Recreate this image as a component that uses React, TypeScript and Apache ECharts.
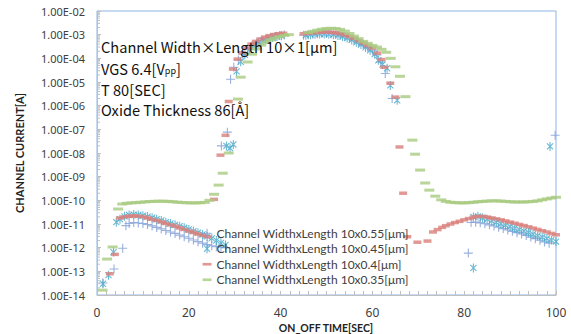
import { useEffect, useRef } from 'react';
import * as echarts from 'echarts';

const seriesNames = [
  'Channel WidthxLength 10x0.55[μm]',
  'Channel WidthxLength 10x0.45[μm]',
  'Channel WidthxLength 10x0.4[μm]',
  'Channel WidthxLength 10x0.35[μm]',
];

const annotationLines = [
  'Channel Width×Length 10×1[μm]',
  'VGS 6.4[V{sub|pp}]',
  'T 80[SEC]',
  'Oxide Thickness 86[Å]',
];

const yAxisTitle = 'CHANNEL CURRENT[A]';
const xAxisTitle = 'ON_OFF TIME[SEC]';

const yDecades = [-14, -13, -12, -11, -10, -9, -8, -7, -6, -5, -4, -3];
const minorMultipliers = [2, 3, 4, 5, 6, 7, 8, 9];

// 10x0.55 (blue plus)
const w055: [number, number][] = [
  [1.3, 3.2e-14], [3.7, 1.26e-13], [5.6, 9.5e-13], [6.3, 8.5e-12], [7, 1.05e-11], [8, 1.15e-11], [9, 1.1e-11],
  [10, 1.05e-11], [11, 9.5e-12], [12, 8.3e-12], [13, 7.2e-12], [14, 6.2e-12], [15, 5.3e-12], [16, 4.6e-12],
  [17, 4.0e-12], [18, 3.4e-12], [19, 2.9e-12], [20, 2.5e-12], [21, 2.1e-12], [22, 1.8e-12], [23, 1.55e-12],
  [24, 1.35e-12], [25, 1.2e-12], [26, 1.1e-12], [27, 1.05e-12], [28, 1.0e-12],
  [27.1, 2.0e-8], [28.4, 7.6e-8], [29.1, 1.3e-5], [29.8, 4.2e-5], [30.8, 8.5e-5], [31.8, 1.5e-4], [32.8, 2.4e-4],
  [33.8, 3.4e-4], [34.8, 4.4e-4], [35.8, 5.5e-4], [36.8, 6.5e-4], [37.8, 7.5e-4], [38.8, 8.4e-4], [39.8, 9.2e-4],
  [40.8, 9.8e-4],
  [45, 9.5e-4], [46, 1.0e-3], [47, 1.05e-3], [48, 1.1e-3], [49, 1.12e-3], [50, 1.12e-3], [51, 1.1e-3],
  [52, 1.05e-3], [53, 9.6e-4], [54, 8.5e-4], [55, 7.3e-4], [56, 6.0e-4], [57, 4.8e-4], [58, 3.8e-4],
  [59, 2.9e-4], [60, 2.2e-4], [61, 1.4e-4], [61.8, 7.0e-5], [62.8, 2.3e-5], [64.3, 2.0e-6],
  [80.9, 5.9e-13], [81.5, 1.15e-11], [82.5, 1.2e-11], [83.5, 1.12e-11], [84.5, 1.02e-11], [85.5, 9.2e-12],
  [86.5, 8.2e-12], [87.5, 7.3e-12], [88.5, 6.4e-12], [89.5, 5.6e-12], [90.5, 4.9e-12], [91.5, 4.3e-12],
  [92.5, 3.8e-12], [93.5, 3.3e-12], [94.5, 2.8e-12], [95.5, 2.4e-12], [96.5, 2.05e-12], [97.5, 1.75e-12],
  [98.5, 1.55e-12], [99.8, 5.6e-8],
];

// 10x0.45 (teal asterisk)
const w045: [number, number][] = [
  [1.3, 3.0e-14], [2.5, 6.9e-14], [3.6, 6.5e-13], [4.2, 1.2e-11], [5, 1.6e-11], [6, 2.1e-11], [7, 2.4e-11],
  [8, 2.5e-11], [9, 2.4e-11], [10, 2.25e-11], [11, 2.05e-11], [12, 1.85e-11], [13, 1.6e-11], [14, 1.4e-11],
  [15, 1.2e-11], [16, 1.05e-11], [17, 9.2e-12], [18, 8.0e-12], [19, 6.9e-12], [20, 5.9e-12], [21, 5.0e-12],
  [22, 4.3e-12], [23, 3.6e-12], [24, 3.0e-12], [25, 2.5e-12], [26, 2.0e-12], [27, 1.6e-12], [28, 1.3e-12],
  [28.2, 2.0e-8], [29.0, 1.6e-8], [29.7, 2.3e-8], [30.4, 2.8e-5], [31.3, 7.2e-5], [32.2, 1.4e-4],
  [33.2, 2.3e-4], [34.2, 3.3e-4], [35.2, 4.4e-4], [36.2, 5.5e-4], [37.2, 6.5e-4], [38.2, 7.5e-4],
  [39.2, 8.4e-4], [40.2, 9.0e-4],
  [45.5, 9.5e-4], [46.5, 1.0e-3], [47.5, 1.05e-3], [48.5, 1.08e-3], [49.5, 1.08e-3], [50.5, 1.05e-3],
  [51.5, 1.0e-3], [52.5, 9.3e-4], [53.5, 8.3e-4], [54.5, 7.2e-4], [55.5, 6.0e-4], [56.5, 4.8e-4],
  [57.5, 3.8e-4], [58.5, 2.9e-4], [59.5, 2.2e-4], [60.5, 1.5e-4], [61.3, 8.3e-5], [62.2, 5.5e-5],
  [63.2, 3.8e-5], [63.9, 7.2e-6], [65.4, 1.7e-6],
  [82, 2.0e-11], [83, 2.1e-11], [84, 1.8e-11], [85, 1.6e-11], [86, 1.35e-11], [87, 1.17e-11], [88, 1.02e-11],
  [89, 8.9e-12], [90, 7.8e-12], [91, 6.6e-12], [92, 5.8e-12], [93, 5.0e-12], [94, 4.4e-12], [95, 3.7e-12],
  [96, 3.2e-12], [97, 2.8e-12], [98, 2.45e-12], [99, 2.1e-12], [100, 1.8e-12],
  [82, 1.4e-13], [98.7, 1.9e-8],
];

// 10x0.4 (red dash)
const w04: [number, number][] = [
  [2.8, 7.9e-14], [3.9, 5.2e-13], [5, 1.8e-11], [6, 2.0e-11], [7, 2.15e-11], [8, 2.2e-11], [9, 2.15e-11],
  [10, 2.0e-11], [11, 1.8e-11], [12, 1.6e-11], [13, 1.4e-11], [14, 1.22e-11], [15, 1.06e-11], [16, 9.2e-12],
  [17, 8.0e-12], [18, 6.9e-12], [19, 5.9e-12], [20, 5.0e-12], [21, 4.4e-12], [22, 3.8e-12], [23, 3.3e-12],
  [24, 2.9e-12],
  [25.5, 1.1e-10], [26.9, 8.1e-9], [28, 5.6e-8], [28.7, 1.5e-6], [29.6, 3.5e-5], [30.6, 9.3e-5],
  [31.6, 1.74e-4], [32.6, 2.75e-4], [33.6, 4.0e-4], [34.6, 5.2e-4], [35.6, 6.6e-4], [36.6, 7.9e-4],
  [37.6, 9.1e-4], [38.6, 1.02e-3], [39.6, 1.1e-3], [40.6, 1.15e-3],
  [45, 1.1e-3], [46, 1.15e-3], [47, 1.2e-3], [48, 1.26e-3], [49, 1.29e-3], [50, 1.29e-3], [51, 1.26e-3],
  [52, 1.2e-3], [53, 1.1e-3], [54, 9.8e-4], [55, 8.5e-4], [56, 7.1e-4], [57, 5.6e-4], [58, 4.5e-4],
  [59, 3.5e-4], [60, 2.7e-4], [61, 1.66e-4], [62, 8.9e-5], [62.6, 4.2e-5], [63.9, 8.9e-6], [65, 2.3e-6],
  [65.9, 1.8e-8], [66.7, 2.0e-10], [67.6, 2.9e-12], [69.8, 1.7e-12], [72, 1.9e-12], [73.2, 4.6e-12],
  [74.2, 5.8e-12], [75.2, 7.2e-12], [76, 8.5e-12], [77, 1.0e-11], [78, 1.15e-11], [79, 1.3e-11],
  [80, 1.5e-11], [81, 1.7e-11], [82, 1.95e-11], [83, 2.1e-11], [84, 2.1e-11], [85, 1.95e-11],
  [86, 1.8e-11], [87, 1.65e-11], [88, 1.5e-11], [89, 1.35e-11], [90, 1.2e-11], [91, 1.08e-11],
  [92, 9.6e-12], [93, 8.6e-12], [94, 7.6e-12], [95, 6.7e-12], [96, 5.9e-12], [97, 5.2e-12],
  [98, 4.6e-12], [99, 4.0e-12], [100, 3.5e-12],
];

// 10x0.35 (green dash)
const w035: [number, number][] = [
  [1.2, 1.6e-14], [2.2, 3.3e-13], [3.4, 1.07e-12], [4.6, 4.3e-11], [5.5, 7.0e-11], [6.5, 7.5e-11],
  [7.5, 7.8e-11], [8.5, 8.0e-11], [9.5, 8.3e-11], [10.5, 8.6e-11], [11.5, 8.9e-11], [12.5, 9.1e-11],
  [13.5, 9.2e-11], [14.5, 9.2e-11], [15.5, 9.0e-11], [16.5, 8.7e-11], [17.5, 8.4e-11], [18.5, 8.1e-11],
  [19.5, 7.9e-11], [20.5, 7.8e-11], [21.5, 7.8e-11], [22.5, 7.9e-11], [23.5, 8.2e-11], [24.5, 1.0e-10],
  [25.5, 1.8e-10], [26.5, 4.4e-10], [27.4, 1.4e-9], [28.7, 1.0e-8], [30.7, 1.9e-6], [31.3, 1.6e-5],
  [32.8, 7.0e-5], [33.8, 1.5e-4], [34.8, 2.5e-4], [35.8, 3.6e-4], [36.8, 4.8e-4], [37.8, 6.0e-4],
  [38.8, 7.2e-4], [39.8, 8.3e-4], [40.8, 9.3e-4], [41.8, 1.0e-3],
  [46, 1.2e-3], [47, 1.38e-3], [48, 1.55e-3], [49, 1.7e-3], [50, 1.82e-3], [51, 1.86e-3], [52, 1.82e-3],
  [53, 1.66e-3], [54, 1.41e-3], [55, 1.12e-3], [56, 8.7e-4], [57, 6.8e-4], [58, 5.2e-4], [59, 4.3e-4],
  [60, 3.5e-4], [61, 3.0e-4], [62, 2.4e-4], [63, 1.8e-4], [64, 1.0e-4], [65, 4.4e-5], [66, 1.74e-5],
  [67.2, 2.4e-6],
  [68.7, 3.5e-8], [69.3, 8.9e-9], [70.4, 1.9e-9], [71.5, 5.4e-10], [72.4, 2.7e-10], [73.7, 1.5e-10],
  [75, 1.05e-10], [76, 9.0e-11], [77, 8.3e-11], [78, 8.0e-11], [79, 7.8e-11], [80, 7.8e-11], [81, 8.0e-11],
  [82, 8.3e-11], [83, 8.7e-11], [84, 9.0e-11], [85, 9.3e-11], [86, 9.5e-11], [87, 9.5e-11], [88, 9.3e-11],
  [89, 9.0e-11], [90, 8.7e-11], [91, 8.5e-11], [92, 8.5e-11], [93, 8.5e-11], [94, 8.7e-11], [95, 9.0e-11],
  [96, 9.5e-11], [97, 1.05e-10], [98, 1.15e-10], [99, 1.25e-10], [100, 1.35e-10],
];

const COLORS = ['#7F9ED6', '#45A8C8', '#D9807C', '#A8CA80'];
const PLUS = 'path://M0,5L10,5M5,0L5,10';
const STAR = 'path://M0,0M10,10M1.6,1.6L8.4,8.4M8.4,1.6L1.6,8.4M5,0L5,10';
const DASH_ICON = 'path://M0,0M10,10M0,3.5L10,3.5L10,6.5L0,6.5Z';

const textFont = '"Noto Sans CJK KR", "Noto Sans", sans-serif';
const labelFont = '"Noto Sans", sans-serif';

function buildOption() {
  const minorTicks: [number, number][] = [];
  yDecades.forEach((e) => minorMultipliers.forEach((m) => minorTicks.push([0, m * Math.pow(10, e)])));

  const strokeSeries = (name: string, data: [number, number][], symbol: string, color: string) => ({
    name,
    type: 'scatter',
    data,
    symbol,
    symbolSize: 9,
    itemStyle: { color: 'rgba(0,0,0,0)', borderColor: color, borderWidth: 1.1 },
    emphasis: { disabled: true },
    z: 2,
  });
  const dashSeries = (name: string, data: [number, number][], size: number[], color: string) => ({
    name,
    type: 'scatter',
    data,
    symbol: 'rect',
    symbolSize: size,
    itemStyle: { color },
    emphasis: { disabled: true },
    z: 2,
  });

  const annotation = annotationLines.map((t, i) => ({
    type: 'text',
    x: 101,
    y: [46, 68, 89.5, 109.5][i],
    z: 10,
    style: {
      text: t,
      font: `14.6px ${textFont}`,
      fill: '#111',
      textAlign: 'left',
      textVerticalAlign: 'middle',
      rich: {
        sub: { fontSize: 9, fontFamily: textFont, verticalAlign: 'bottom', lineHeight: 12, fill: '#111' },
      },
    },
  }));

  return {
    animation: false,
    backgroundColor: '#ffffff',
    grid: {
      left: 97,
      right: 15,
      top: 11,
      bottom: 39,
      show: true,
      borderColor: '#8DB4E2',
      borderWidth: 1,
    },
    xAxis: {
      type: 'value',
      min: 0,
      max: 100,
      interval: 20,
      axisLine: { show: true, lineStyle: { color: '#BFBFBF' } },
      axisTick: { show: true, inside: true, length: 4, lineStyle: { color: '#BFBFBF' } },
      minorTick: { show: true, splitNumber: 10, length: 4, lineStyle: { color: '#BFBFBF' } },
      splitLine: { show: false },
      axisLabel: { color: '#404040', fontSize: 12, fontFamily: labelFont, margin: 11 },
    },
    yAxis: {
      type: 'log',
      logBase: 10,
      min: 1e-14,
      max: 1e-2,
      interval: 1,
      splitNumber: 12,
      axisLine: { show: true, lineStyle: { color: '#BFBFBF' } },
      axisTick: { show: true, inside: true, length: 4, lineStyle: { color: '#BFBFBF' } },
      splitLine: { show: false },
      axisLabel: {
        color: '#404040',
        fontSize: 11,
        fontFamily: labelFont,
        margin: 12,
        formatter: (v: number) => {
          const e = Math.round(Math.log10(v));
          return '1.00E-' + String(Math.abs(e)).padStart(2, '0');
        },
      },
    },
    legend: {
      orient: 'vertical',
      left: 202,
      top: 226.5,
      itemWidth: 9,
      itemHeight: 9,
      itemGap: 2,
      padding: 0,
      textStyle: { color: '#404040', fontSize: 12, fontFamily: 'Lato, sans-serif', lineHeight: 13.5 },
      data: [
        { name: seriesNames[0], icon: PLUS, itemStyle: { borderWidth: 1.1 } },
        { name: seriesNames[1], icon: STAR, itemStyle: { borderWidth: 1.1 } },
        { name: seriesNames[2], icon: DASH_ICON },
        { name: seriesNames[3], icon: DASH_ICON },
      ],
      selectedMode: false,
      z: 6,
    },
    graphic: [
      ...annotation,
      {
        type: 'text',
        x: 19.5,
        y: 153,
        rotation: Math.PI / 2,
        style: {
          text: yAxisTitle,
          font: 'bold 11px Lato, sans-serif',
          fill: '#222',
          textAlign: 'center',
          textVerticalAlign: 'middle',
        },
      },
      {
        type: 'text',
        x: 326,
        y: 327.5,
        style: {
          text: xAxisTitle,
          font: 'bold 10.5px Lato, sans-serif',
          fill: '#222',
          textAlign: 'center',
          textVerticalAlign: 'middle',
        },
      },
    ],
    series: [
      {
        name: '__minorTicks',
        type: 'custom',
        data: minorTicks,
        silent: true,
        z: 3,
        clip: false,
        renderItem: (_p: any, api: any) => {
          const pt = api.coord([0, api.value(1)]);
          return {
            type: 'line',
            shape: { x1: pt[0], y1: pt[1], x2: pt[0] + 3, y2: pt[1] },
            style: { stroke: '#BFBFBF', lineWidth: 1 },
          };
        },
      },
      strokeSeries(seriesNames[0], w055, PLUS, COLORS[0]),
      strokeSeries(seriesNames[1], w045, STAR, COLORS[1]),
      dashSeries(seriesNames[2], w04, [8, 3.5], COLORS[2]),
      dashSeries(seriesNames[3], w035, [10, 3], COLORS[3]),
    ],
  };
}

export default function App() {
  const ref = useRef<HTMLDivElement>(null);
  useEffect(() => {
    if (!ref.current) return;
    const chart = echarts.init(ref.current, null, { renderer: 'svg' });
    chart.setOption(buildOption() as any);
    return () => chart.dispose();
  }, []);
  return (
    <div
      ref={ref}
      style={{ position: 'fixed', left: 0, top: 0, width: 571, height: 334, background: '#fff' }}
    />
  );
}
